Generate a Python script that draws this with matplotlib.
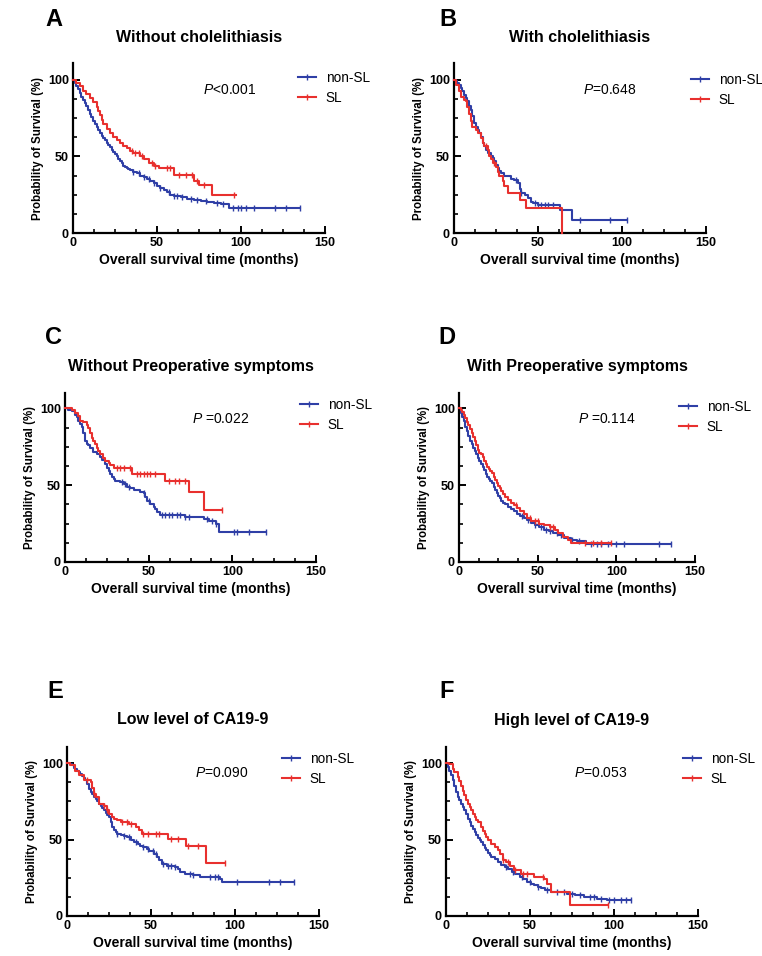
import numpy as np
import matplotlib
matplotlib.use("Agg")
import matplotlib.pyplot as plt
from matplotlib.lines import Line2D
from matplotlib.ticker import MultipleLocator

plt.rcParams['font.family'] = ['Liberation Sans', 'DejaVu Sans']
plt.rcParams['mathtext.fontset'] = 'custom'
plt.rcParams['mathtext.it'] = 'Liberation Sans:italic'
plt.rcParams['mathtext.rm'] = 'Liberation Sans'

BLUE = '#2F3FA6'
RED = '#E8302E'

panel_letters = ['A', 'B', 'C', 'D', 'E', 'F']
titles = ['Without cholelithiasis', 'With cholelithiasis',
          'Without Preoperative symptoms', 'With Preoperative symptoms',
          'Low level of CA19-9', 'High level of CA19-9']
p_texts = [r'$\mathit{P}$<0.001', r'$\mathit{P}$=0.648', r'$\mathit{P}$ =0.022',
           r'$\mathit{P}$ =0.114', r'$\mathit{P}$=0.090', r'$\mathit{P}$=0.053']
series_names = ['non-SL', 'SL']
x_ticks = [0, 50, 100, 150]
y_ticks = [0, 50, 100]

# (time in months, survival %) step points, last follow-up time, censor times
A_nonSL = [(0,100),(1,98),(2,96),(3,94),(4,91.5),(5,89),(6,87),(7,85),(8,83),(9,80.5),(10,78),(11,75.5),(12,73),(13,71),(14,69),(15,67),(16,65),(17,63.5),(18,62),(19,60.5),(20,59),(21,57.5),(22,56),(23,54.5),(24,53),(25,51.5),(26,50),(27,48.5),(28,47),(29,45.5),(30,44),(31,43),(32,42.4),(33,41.5),(34,41),(36,40),(38,39),(40,37.5),(42,36.5),(44,35.5),(46,34),(48,32.6),(50,31),(52,29.5),(54,28),(56,26.5),(58,25),(60,24),(64,23.3),(68,22.3),(72,21.6),(76,21),(80,20.3),(84,19.6),(88,18.8),(93,16.5)]
A_nonSL_end = 135
A_nonSL_cens = [36,39,42,45,48,52,57,60,62,65,70,74,79,86,89,95,98,100,103,108,120,127,135]
A_SL = [(0,100),(2,98),(4,96),(6,93),(8,90.5),(10,88),(12,85.5),(14,82),(15,79.5),(16,77),(17,74),(18,71),(20,68),(22,65),(24,63),(26,61),(28,59),(30,57),(32,55.5),(34,53.5),(36,52),(40,50),(42,48.5),(45,45.5),(48,44),(51,42.5),(60,38),(72,33.7),(75,31.5),(83,25)]
A_SL_end = 97
A_SL_cens = [35,37,39,41,47,49,56,58,63,67,71,74,78,96]

B_nonSL = [(0,100),(1,99),(2,98),(3,96.5),(4,95),(5,92.5),(6,90),(7,88),(8,86),(9,83),(10,80),(11,76.5),(12,72),(13,69.5),(14,67.5),(15,65.5),(16,62.5),(17,59),(18,56.5),(19,54.5),(20,52.5),(22,50.5),(23,49),(24,47),(25,44.6),(26,42.5),(27,40.5),(28,39),(30,37.5),(32,37),(34,35.5),(36,34.5),(38,32.6),(39,29),(40,26),(42,24.5),(44,22.8),(46,20.5),(47,19.5),(50,18),(63,15.2),(70,8.7)]
B_nonSL_end = 103
B_nonSL_cens = [37,40,48,50,52,54,56,59,75,93,103]
B_SL = [(0,100),(1,96.7),(3,93),(4,89),(6,87),(7,86),(8,82),(9,78),(10,73),(11,69),(13,67),(14,65),(16,62),(17,59),(18,57),(20,54),(21,50),(22,48),(23,45.6),(25,43),(26,40),(27,37),(29,33.7),(30,31),(32,26),(39,21.7),(43,16.3),(64,0)]
B_SL_end = 64
B_SL_cens = [19,24]

C_nonSL = [(0,100),(2,99),(4,98),(6,96),(7,94.6),(8,92),(9,90),(10,88),(11,84),(12,79),(13,77),(14,76),(15,74),(17,71.7),(19,70),(21,68.5),(22,66.5),(24,64),(25,61.5),(26,59.5),(27,57.6),(28,55.5),(29,54),(30,53),(33,52),(35,51),(37,49),(39,48),(41,46.7),(45,45.5),(47,44.6),(48,42),(49,40),(51,38),(53,36),(54,34.5),(55,32.6),(57,30.4),(72,29.5),(83,28),(86,27),(90,25),(92,19.6)]
C_nonSL_end = 120
C_nonSL_cens = [34,36,38,47,50,58,60,62,64,67,69,72,74,85,88,90,101,103,110,120]
C_SL = [(0,100),(4,99),(6,97),(8,95),(9,92),(11,91),(13,89),(14,87),(15,83.7),(16,81),(17,79),(18,77),(19,74),(20,72),(21,70.6),(23,68),(24,66),(26,64.5),(27,63),(29,61),(40,57.6),(60,52.5),(74,45.6),(83,33.7)]
C_SL_end = 94
C_SL_cens = [31,33,35,39,43,45,47,49,51,54,62,66,68,72,94]

D_nonSL = [(0,100),(1,97),(2,94.6),(3,91.5),(4,88),(5,85),(6,82),(7,79),(8,77),(9,74.5),(10,72),(11,70),(12,68),(13,66),(14,64),(15,62),(16,60),(17,57.5),(18,55.6),(19,54),(20,52.5),(21,51.3),(22,49),(23,47),(24,44.8),(25,43),(26,41.5),(27,40),(28,38.5),(29,37.5),(31,36),(33,34.5),(35,33),(37,31.5),(39,29.7),(41,28.5),(43.5,27.5),(46,25.5),(48,24.2),(51,22.5),(54,21),(57,20),(60,18.8),(63,17.5),(67,15.6),(71,14),(75,13.4),(81,12)]
D_nonSL_end = 135
D_nonSL_cens = [40,44,48,52,55,58,62,65,72,76,84,88,90,95,100,105,127,135]
D_SL = [(0,100),(1,99),(2,97.8),(3,95.5),(4,93.5),(5,91.3),(6,89),(7,86.5),(8,84),(9,81.5),(10,78.5),(11,76),(12,73),(13,71),(14,70),(15,68.6),(16,66),(17,64),(18,62),(19,60.5),(20,59),(21,57.8),(22,55.5),(23,53.5),(24,51.3),(25,49.5),(26,48),(27,46),(28,44.5),(29,42.5),(31,40.5),(33,38.5),(35,37.2),(37,35),(39,33),(41,31),(43.5,28.6),(46,27),(48,26.4),(51,25),(54,24.2),(58,23),(61,21),(63,18.8),(66,16.5),(69,14.5),(71,12.3)]
D_SL_end = 96.5
D_SL_cens = [36,45,48,50,58,60,80,85,90,96.5]

E_nonSL = [(0,100),(2,99.3),(3,98.5),(4,97),(5,96),(6,95),(7,94),(8,93),(9,91.5),(10,90),(11,88.7),(12,86),(13,83),(14,81),(15,79.5),(16,77.8),(17,76.5),(18,75),(19,73.4),(20,72),(21,70.5),(22,69),(23,67.5),(24,66),(25,64.7),(26,61.5),(27,58),(28,56.5),(29,55),(30,53.5),(32,52.7),(34,52),(36,51.6),(38,50),(40,48.4),(42,47),(43.5,46),(45,45),(47.5,44),(49,42.5),(51.5,40.7),(53.5,38.6),(55,36.5),(56.5,34.2),(59.5,33),(64,32),(66,30.5),(67,28.8),(70,27.7),(75,26.6),(79,25.5),(91,24.4),(92,22.2)]
E_nonSL_end = 135
E_nonSL_cens = [30,34,37,41,45,48,51,53,57,60,62,64,73,75,85,88,90,101,120,127,135]
E_SL = [(0,100),(2,98.5),(5,95),(7,92),(10,88.7),(14,87.6),(15,84),(16,80),(17,77.8),(19,73.4),(22,72),(24,69),(25,67),(27,65),(28,63.6),(30,62.5),(32,61.4),(37,60),(41,58),(43,56),(44.5,53.8),(60,50.5),(71,46),(83,34.6)]
E_SL_end = 94
E_SL_cens = [12,16,22,24,33,36,38,45,48,53,55,62,66,72,78,94]

F_nonSL = [(0,100),(1,97.5),(2,95),(3,92),(4,88.7),(5,85),(6,81),(7,78),(8,75.6),(9,73),(10,71),(11,69),(12,66.5),(13,63.6),(14,61.5),(15,59),(16,57),(17,55),(18,52.7),(19,51),(20,50),(21,48.4),(22,46.5),(23,44.5),(24,43),(25,41.5),(26,40),(27,38.6),(29,37),(31,35.3),(33,33.5),(35,32),(37,30.5),(39,28.8),(41,27.5),(44,25.5),(46,24),(48.5,22.2),(50.5,21),(52.5,20),(54.5,19),(56.5,18),(59,17),(62.4,15.7),(72,14.6),(77,13.5),(82,12.4),(90,11.3),(96,10.7)]
F_nonSL_end = 110
F_nonSL_cens = [36,40,45,50,55,60,66,70,75,80,86,88,92,97,100,104,107,110]
F_SL = [(0,100),(2,99.6),(4,96.3),(5,94),(7,91),(8,88),(9,85),(10,82),(11,79),(12,76),(13,73.4),(14,71),(15,69),(16,67),(17,65),(18,63),(19,61.4),(21,58),(22,55.5),(23,53.5),(24,51.6),(25,49.5),(27,47),(29,45),(31,43),(32,40.5),(34,36.4),(36,35),(38,33),(40.6,29.8),(44.6,27.7),(52.5,25.5),(58.5,24.4),(60.4,21),(62.4,15.7),(74,7)]
F_SL_end = 96.5
F_SL_cens = [34,37,41,46,48,58,96.5]

curves = [
    ((A_nonSL, A_nonSL_end, A_nonSL_cens), (A_SL, A_SL_end, A_SL_cens)),
    ((B_nonSL, B_nonSL_end, B_nonSL_cens), (B_SL, B_SL_end, B_SL_cens)),
    ((C_nonSL, C_nonSL_end, C_nonSL_cens), (C_SL, C_SL_end, C_SL_cens)),
    ((D_nonSL, D_nonSL_end, D_nonSL_cens), (D_SL, D_SL_end, D_SL_cens)),
    ((E_nonSL, E_nonSL_end, E_nonSL_cens), (E_SL, E_SL_end, E_SL_cens)),
    ((F_nonSL, F_nonSL_end, F_nonSL_cens), (F_SL, F_SL_end, F_SL_cens)),
]

# ---- layout (pixels) ----
W, H = 762, 956
fig = plt.figure(figsize=(W / 100, H / 100), dpi=100)

def fx(x):
    return x / W

def fy(y):
    return 1 - y / H

# axes: left, right, y of 0, y of top, ymax
axes_px = [
    (73, 325, 233, 63, 111),
    (454, 706, 233, 63, 111),
    (65, 316, 562, 393, 110),
    (459, 695, 562, 393, 110),
    (67, 319, 916, 747, 110.5),
    (446, 698, 916, 747, 110.5),
]
letter_px = [(45, 20), (439, 20), (45, 337), (438, 337), (47, 692), (439, 692)]
title_y = [37, 37, 367, 367, 720, 720]
p_px = [(203, 90), (583, 90), (192, 419), (578, 419), (195, 773), (574, 773)]
legend_px = [(298, 78), (691, 80), (300, 405), (679, 407), (282, 759), (683, 759)]

def step_value(pts, t):
    ts = np.array([p[0] for p in pts])
    ss = np.array([p[1] for p in pts])
    idx = np.searchsorted(ts, t, side='right') - 1
    return ss[np.clip(idx, 0, len(ss) - 1)]

for i in range(6):
    l, r, y0, ytop, ymax = axes_px[i]
    ax = fig.add_axes([fx(l), fy(y0), (r - l) / W, (y0 - ytop) / H])
    ax.set_xlim(0, 150)
    ax.set_ylim(0, ymax)
    for sp in ['top', 'right']:
        ax.spines[sp].set_visible(False)
    for sp in ['left', 'bottom']:
        ax.spines[sp].set_linewidth(1.6)
    ax.set_xticks(x_ticks)
    ax.set_yticks(y_ticks)
    ax.xaxis.set_minor_locator(MultipleLocator(12.5))
    ax.yaxis.set_minor_locator(MultipleLocator(12.5))
    ax.tick_params(which='major', direction='in', length=5, width=1.4,
                   labelsize=9, pad=3)
    ax.tick_params(which='minor', direction='in', length=3, width=1.2)
    for lab in ax.get_xticklabels() + ax.get_yticklabels():
        lab.set_fontweight('bold')
    ax.set_xlabel('Overall survival time (months)', fontsize=10, fontweight='bold', labelpad=3)
    ax.set_ylabel('Probability of Survival (%)', fontsize=8.3, fontweight='bold', labelpad=3)

    handles = []
    for (pts, end, cens), col in zip(curves[i], [BLUE, RED]):
        ts = [p[0] for p in pts] + [end]
        ss = [p[1] for p in pts] + [pts[-1][1]]
        ax.step(ts, ss, where='post', color=col, lw=1.5, clip_on=False, zorder=3)
        cy = step_value(pts, np.array(cens, dtype=float))
        ax.plot(cens, cy, ls='none', marker='|', ms=4, mew=1.0, color=col,
                clip_on=False, zorder=3)
        handles.append(Line2D([0], [0], color=col, lw=1.5, marker='|', ms=4, mew=1.0))

    lx, ly = legend_px[i]
    ax.legend(handles, series_names, loc='upper left',
              bbox_to_anchor=(fx(lx), fy(ly - 7)), bbox_transform=fig.transFigure,
              frameon=False, fontsize=9.8, handlelength=1.3, handletextpad=0.75,
              labelspacing=0.45, borderpad=0, borderaxespad=0)

    px, py = p_px[i]
    fig.text(fx(px), fy(py), p_texts[i], fontsize=10, ha='left', va='center')
    fig.text(fx((l + r) / 2), fy(title_y[i]), titles[i], fontsize=11.5,
             fontweight='bold', ha='center', va='center')
    lx2, ly2 = letter_px[i]
    fig.text(fx(lx2), fy(ly2), panel_letters[i], fontsize=17, fontweight='bold',
             ha='left', va='center')

fig.savefig('out.png', dpi=100, facecolor='white')
